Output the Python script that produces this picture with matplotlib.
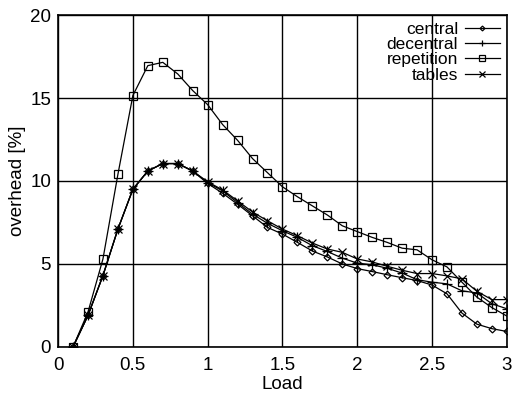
import numpy as np
import matplotlib
matplotlib.use("Agg")
import matplotlib.pyplot as plt

plt.rcParams['font.family'] = ['Liberation Sans', 'DejaVu Sans']

load = [0.1, 0.2, 0.3, 0.4, 0.5, 0.6, 0.7, 0.8, 0.9, 1.0,
        1.1, 1.2, 1.3, 1.4, 1.5, 1.6, 1.7, 1.8, 1.9, 2.0,
        2.1, 2.2, 2.3, 2.4, 2.5, 2.6, 2.7, 2.8, 2.9, 3.0]

central = [0.0, 1.9, 4.3, 7.1, 9.5, 10.6, 11.05, 11.05, 10.6, 9.85,
           9.26, 8.6, 7.9, 7.2, 6.8, 6.3, 5.78, 5.42, 5.0, 4.72,
           4.54, 4.35, 4.17, 4.0, 3.73, 3.2, 2.04, 1.37, 1.1, 0.93]

decentral = [0.0, 1.9, 4.3, 7.1, 9.5, 10.6, 11.05, 11.05, 10.6, 9.9,
             9.4, 8.7, 8.0, 7.45, 7.0, 6.6, 6.1, 5.75, 5.35, 5.05,
             4.95, 4.74, 4.45, 4.05, 3.9, 3.8, 3.38, 3.25, 2.6, 2.3]

repetition = [0.0, 2.1, 5.3, 10.4, 15.15, 16.95, 17.15, 16.45, 15.45, 14.6,
              13.4, 12.45, 11.35, 10.5, 9.65, 9.05, 8.5, 7.95, 7.3, 6.95,
              6.6, 6.3, 5.95, 5.85, 5.25, 4.82, 3.9, 3.0, 2.37, 1.86]

tables = [0.0, 1.9, 4.3, 7.1, 9.5, 10.6, 11.05, 11.05, 10.6, 9.95,
          9.46, 8.8, 8.13, 7.6, 7.1, 6.7, 6.26, 5.9, 5.7, 5.3,
          5.12, 4.86, 4.62, 4.42, 4.42, 4.28, 4.1, 3.35, 2.85, 2.85]

fig = plt.figure(figsize=(5.14, 3.96), dpi=100)
ax = fig.add_axes([0.113, 0.124, 0.873, 0.838])

ax.plot(load, central, color="k", lw=0.9, marker="D", ms=3.5, mfc="none", mew=0.9, label="central")
ax.plot(load, decentral, color="k", lw=0.9, marker="+", ms=7, mew=0.9, label="decentral")
ax.plot(load, repetition, color="k", lw=0.9, marker="s", ms=6, mfc="none", mew=0.9, label="repetition")
ax.plot(load, tables, color="k", lw=0.9, marker="x", ms=6, mew=0.9, label="tables")

ax.set_xlim(0, 3)
ax.set_ylim(0, 20)
ax.set_xticks([0, 0.5, 1, 1.5, 2, 2.5, 3])
ax.set_xticklabels(["0", "0.5", "1", "1.5", "2", "2.5", "3"])
ax.set_yticks([0, 5, 10, 15, 20])
ax.grid(True, color="k", lw=1)
ax.tick_params(axis="x", length=0, labelsize=13.5, pad=7)
ax.tick_params(axis="y", length=0, labelsize=13.5, pad=5)
for s in ax.spines.values():
    s.set_linewidth(1.2)

ax.set_xlabel("Load", fontsize=13.5, labelpad=2)
ax.set_ylabel("overhead [%]", fontsize=13.5, labelpad=3)

leg = ax.legend(loc="upper right", frameon=False, markerfirst=False, fontsize=12.5,
                handlelength=2.0, labelspacing=0.0, borderaxespad=0.2,
                handletextpad=0.4, markerscale=0.7, borderpad=0.2)
for t in leg.get_texts():
    t.set_ha("right")

fig.savefig("out.png", dpi=100)
